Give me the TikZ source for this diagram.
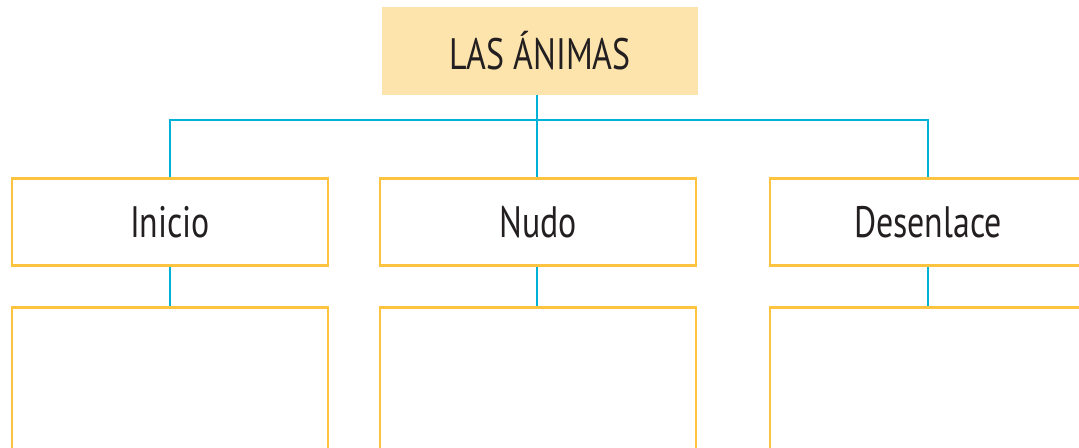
\documentclass[tikz,border=0pt]{standalone}
\usepackage{fontspec}
\setmainfont[FakeStretch=0.77]{PT Sans}
\definecolor{boxy}{HTML}{FFC43F}
\definecolor{titfill}{HTML}{FDE4AD}
\definecolor{conn}{HTML}{00B2D8}
\definecolor{txt}{HTML}{231F20}
\tikzset{
  titlebox/.style={fill=titfill, draw=none, minimum width=237pt, minimum height=66pt, inner sep=0pt, text=txt, font=\fontsize{33}{36}\selectfont},
  headbox/.style={draw=boxy, line width=2pt, fill=white, minimum width=237pt, minimum height=65pt, inner sep=0pt, text=txt, font=\fontsize{33}{36}\selectfont},
  emptybox/.style={draw=boxy, line width=2pt, fill=white, minimum width=237pt, minimum height=118pt, inner sep=0pt},
  link/.style={draw=conn, line width=2.1pt}
}
\begin{document}
\begin{tikzpicture}[x=0.75pt,y=-0.75pt]
\useasboundingbox (0,0) rectangle (1079,447);
\clip (0,0) rectangle (1079,447);
\node[titlebox] (title) at (540,51) {LAS ÁNIMAS};
\coordinate (j) at (537,120);
\node[headbox] (ini) at (170,222) {Inicio};
\node[headbox] (nud) at (538,222) {Nudo};
\node[headbox] (des) at (928,222) {Desenlace};
\node[emptybox,anchor=north] (ini2) at (170,306) {};
\node[emptybox,anchor=north] (nud2) at (538,306) {};
\node[emptybox,anchor=north] (des2) at (928,306) {};
\draw[link] (title.south -| j) -- (j);
\draw[link] (ini.north) -- (ini.north |- j) -- (des.north |- j) -- (des.north);
\draw[link] (j) -- (j |- nud.north);
\draw[link] (ini.south) -- (ini2.north);
\draw[link] (nud.south -| j) -- (j |- nud2.north);
\draw[link] (des.south) -- (des2.north);
\end{tikzpicture}
\end{document}
